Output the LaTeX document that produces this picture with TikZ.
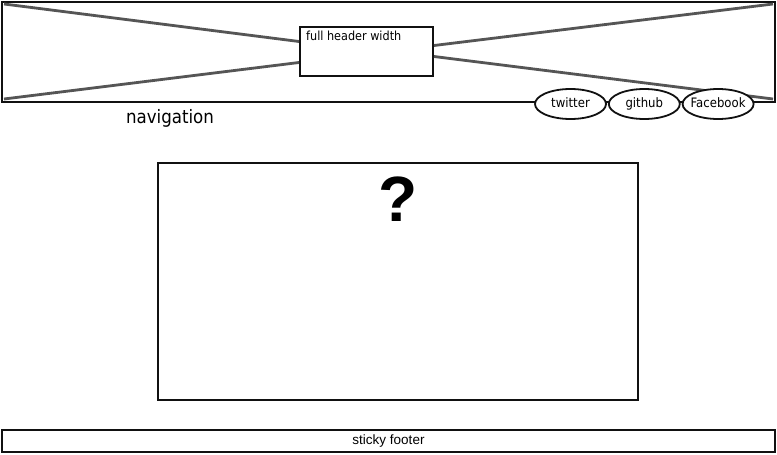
\documentclass[tikz,border=0pt]{standalone}
\usepackage{fontspec}
\setmainfont{Liberation Sans}
\newfontfamily\sketchfont{DejaVu Sans Condensed}
\usetikzlibrary{positioning,calc,shapes.geometric}
\definecolor{inkc}{HTML}{111111}
\definecolor{crossc}{HTML}{555555}

\begin{document}
\begin{tikzpicture}[x=1pt,y=-1pt,
  box/.style={draw=inkc,line width=2pt,fill=white,inner sep=0pt},
  pill/.style={draw=inkc,line width=1.8pt,fill=white,ellipse,inner ysep=0pt,inner xsep=-5pt,
               minimum width=71pt,minimum height=30pt,text height=1.6ex,text depth=.3ex,
               font=\sketchfont\fontsize{13}{15}\selectfont},
  cross/.style={line width=2.8pt,crossc},
]
\useasboundingbox (0,0) rectangle (777,455);
% header with image placeholder
\node[box,minimum width=773pt,minimum height=100pt] (hdr) at (388.5,52) {};
\node[box,minimum width=133pt,minimum height=49pt] (img) at (366.5,51.5) {};
\node[anchor=north west,inner sep=0pt,font=\sketchfont\fontsize{12.5}{14}\selectfont]
  (imgtxt) at ($(img.north west)+(7,4.5)$) {full header width};
\coordinate (hnw) at (4,4);
\coordinate (hsw) at (4,99);
\coordinate (hne) at (773,4);
\coordinate (hse) at (773,99);
\draw[cross] (hnw) -- ($(img.west)+(0,-10)$);
\draw[cross] (hsw) -- ($(img.west)+(0,11)$);
\draw[cross] (hne) -- ($(img.east)+(0,-6)$);
\draw[cross] (hse) -- ($(img.east)+(0,5)$);
\node[font=\sketchfont\fontsize{18.5}{22}\selectfont] (nav) at (170,118) {navigation};
% social links
\node[pill] (tw) at (570.5,104) {twitter};
\node[pill,right=1pt of tw] (gh) {github};
\node[pill,right=1pt of gh] (fb) {Facebook};
% content
\node[box,minimum width=480pt,minimum height=237pt] (main) at (398,281.5) {};
\node[font=\fontsize{64}{64}\selectfont\bfseries,below=11pt of main.north] (q) {?};
% footer
\node[box,minimum width=773pt,minimum height=22pt,font=\fontsize{13.5}{15}\selectfont]
  (foot) at (388.5,441) {sticky footer};
\end{tikzpicture}
\end{document}
